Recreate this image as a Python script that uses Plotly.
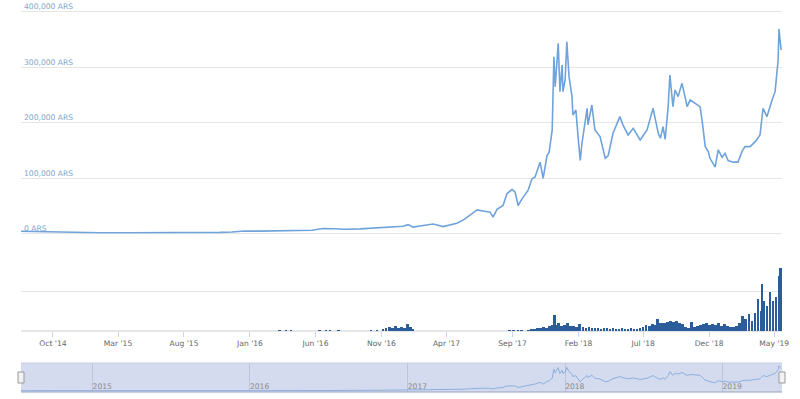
import plotly.graph_objects as go

# ---------------- data ----------------
price_dates = [
    "2014-07-19", "2014-08-20", "2014-09-24", "2014-11-21", "2015-01-18", "2015-03-29",
    "2015-06-06", "2015-08-15", "2015-10-23", "2015-11-20", "2015-12-04", "2015-12-20",
    "2016-01-24", "2016-04-03", "2016-05-24", "2016-06-07", "2016-06-18", "2016-07-16",
    "2016-08-08", "2016-09-12", "2016-10-29", "2016-12-02", "2016-12-21", "2017-01-02",
    "2017-01-13", "2017-01-29", "2017-03-01", "2017-03-24", "2017-04-09", "2017-04-25",
    "2017-05-12", "2017-05-25", "2017-06-11", "2017-06-25", "2017-07-11", "2017-07-18",
    "2017-07-27", "2017-08-10", "2017-08-19", "2017-08-31", "2017-09-07", "2017-09-14",
    "2017-09-23", "2017-10-07", "2017-10-16", "2017-10-23", "2017-11-04", "2017-11-11",
    "2017-11-20", "2017-11-25", "2017-12-02", "2017-12-06", "2017-12-09", "2017-12-16",
    "2017-12-20", "2017-12-25", "2017-12-27", "2018-01-01", "2018-01-05", "2018-01-10",
    "2018-01-17", "2018-01-19", "2018-01-26", "2018-01-31", "2018-02-05", "2018-02-09",
    "2018-02-21", "2018-02-23", "2018-03-04", "2018-03-11", "2018-03-23", "2018-04-04",
    "2018-04-11", "2018-04-22", "2018-05-08", "2018-05-15", "2018-05-27", "2018-06-08",
    "2018-06-24", "2018-07-10", "2018-07-17", "2018-07-24", "2018-08-05", "2018-08-10",
    "2018-08-16", "2018-08-21", "2018-08-28", "2018-09-01", "2018-09-08", "2018-09-13",
    "2018-09-20", "2018-09-29", "2018-10-06", "2018-10-11", "2018-10-18", "2018-10-29",
    "2018-11-10", "2018-11-15", "2018-11-22", "2018-11-29", "2018-12-03", "2018-12-15",
    "2018-12-22", "2018-12-31", "2019-01-07", "2019-01-14", "2019-01-26", "2019-02-06",
    "2019-02-15", "2019-02-22", "2019-03-06", "2019-03-18", "2019-03-29", "2019-04-05",
    "2019-04-14", "2019-04-26", "2019-05-03", "2019-05-10", "2019-05-12", "2019-05-15",
    "2019-05-17",
]
price_ars = [
    4500, 4000, 3300, 2800, 1800, 2000,
    1900, 2200, 2600, 3200, 4300, 5000,
    4800, 5600, 6500, 8200, 9500, 9000,
    8200, 8800, 10500, 12000, 13500, 16500,
    12000, 14000, 17500, 13000, 16500, 19000,
    26000, 33000, 43000, 41000, 39000, 30000,
    44000, 51000, 72000, 80000, 75000, 51000,
    63000, 78000, 99000, 102000, 129000, 100000,
    141000, 147000, 187000, 319000, 265000, 343000,
    256000, 304000, 256000, 277000, 346000, 283000,
    247000, 214000, 223000, 175000, 132000, 163000,
    226000, 196000, 232000, 187000, 175000, 136000,
    141000, 181000, 211000, 196000, 178000, 190000,
    169000, 187000, 205000, 226000, 181000, 172000,
    193000, 170000, 229000, 286000, 229000, 259000,
    247000, 271000, 247000, 229000, 241000, 235000,
    229000, 202000, 157000, 148000, 136000, 120000,
    151000, 138000, 145000, 132000, 129000, 129000,
    148000, 157000, 157000, 166000, 178000, 226000,
    211000, 241000, 256000, 313000, 369000, 345000,
    331000,
]

volume_dates = [
    "2016-03-10", "2016-03-25", "2016-04-05", "2016-06-10", "2016-06-25", "2016-07-05",
    "2016-07-25", "2016-10-08", "2016-10-22", "2016-11-05", "2016-11-12", "2016-11-19",
    "2016-11-26", "2016-12-03", "2016-12-10", "2016-12-17", "2016-12-24", "2016-12-31",
    "2017-01-07", "2017-01-12", "2017-08-25", "2017-09-03", "2017-09-14", "2017-09-22",
    "2017-10-08", "2017-10-15", "2017-10-22", "2017-10-29", "2017-11-05", "2017-11-12",
    "2017-11-19", "2017-11-26", "2017-12-03", "2017-12-10", "2017-12-17", "2017-12-24",
    "2017-12-31", "2018-01-07", "2018-01-14", "2018-01-21", "2018-01-28", "2018-02-04",
    "2018-02-11", "2018-02-18", "2018-02-25", "2018-03-04", "2018-03-11", "2018-03-18",
    "2018-03-25", "2018-04-01", "2018-04-08", "2018-04-15", "2018-04-22", "2018-04-29",
    "2018-05-06", "2018-05-13", "2018-05-20", "2018-05-27", "2018-06-03", "2018-06-10",
    "2018-06-17", "2018-06-24", "2018-07-01", "2018-07-08", "2018-07-15", "2018-07-22",
    "2018-07-29", "2018-08-05", "2018-08-12", "2018-08-19", "2018-08-26", "2018-09-02",
    "2018-09-09", "2018-09-16", "2018-09-23", "2018-09-30", "2018-10-07", "2018-10-14",
    "2018-10-21", "2018-10-28", "2018-11-04", "2018-11-11", "2018-11-18", "2018-11-25",
    "2018-12-02", "2018-12-09", "2018-12-16", "2018-12-23", "2018-12-30", "2019-01-06",
    "2019-01-13", "2019-01-20", "2019-01-27", "2019-02-03", "2019-02-10", "2019-02-17",
    "2019-02-24", "2019-03-03", "2019-03-10", "2019-03-17", "2019-03-24", "2019-03-31",
    "2019-04-07", "2019-04-14", "2019-04-21", "2019-04-28", "2019-05-05", "2019-05-12",
    "2019-05-16",
    # single-day spikes
    "2017-12-07", "2018-08-03", "2019-04-03",
]
volume_units = [
    1, 1, 1, 1, 1.5, 1,
    1, 1, 1.5, 2.5, 3, 4,
    3, 5, 3, 4, 3.5, 7,
    4, 2, 1, 1.5, 1, 1,
    1.5, 2, 2, 3, 3, 4,
    3, 5, 6, 6, 8, 5,
    6, 8, 5, 5, 4, 7,
    4, 3, 4, 3, 3, 3,
    2.5, 3, 3, 2, 3, 2,
    2, 3, 2, 2, 3, 2,
    2, 3, 4, 6, 5, 7,
    6, 8, 8, 8, 9, 10,
    9, 10, 8, 7, 4, 3,
    9, 4, 5, 6, 7, 8,
    6, 7, 6, 8, 5, 7,
    5, 4, 4, 5, 8, 15,
    12, 17, 10, 18, 32, 20,
    30, 25, 39, 30, 34, 55,
    63,
    16, 12, 47,
]

price_ticks = [0, 100000, 200000, 300000, 400000]
price_tick_labels = [f"{v:,} ARS" for v in price_ticks]
x_range = ["2014-07-19", "2019-05-19"]

# ---------------- styling ----------------
FONT = "DejaVu Sans"
FS = 7.6
W, H = 800, 399
xdom = [21 / W, 782 / W]

# price pane: 0 at y=233.8px, 400k at y=11.7px; pane extends to top of canvas
px_per_val = (233.8 - 11.7) / 400000
price_top = 233.8 / px_per_val

fig = go.Figure()

fig.add_trace(go.Scatter(
    x=price_dates, y=price_ars, mode="lines",
    line=dict(color="#6fa3dc", width=1.6),
    xaxis="x", yaxis="y", hoverinfo="skip"))

fig.add_trace(go.Bar(
    x=volume_dates, y=volume_units,
    marker=dict(color="#2b5d9b", line_width=0),
    width=6 * 86400000,
    xaxis="x2", yaxis="y2", hoverinfo="skip"))

fig.add_trace(go.Scatter(
    x=price_dates, y=price_ars, mode="lines",
    line=dict(color="#8db0df", width=1),
    xaxis="x3", yaxis="y3", hoverinfo="skip"))

grid = "#e6e6e6"

fig.update_layout(
    width=W, height=H,
    margin=dict(l=0, r=0, t=0, b=0),
    paper_bgcolor="white", plot_bgcolor="white",
    showlegend=False,
    font=dict(family=FONT, size=FS, color="#666666"),
    bargap=0,
    xaxis=dict(domain=xdom, range=x_range, type="date", anchor="y",
               showticklabels=False, showgrid=False, zeroline=False,
               ticks="", automargin=False),
    yaxis=dict(domain=[(H - 233.8) / H, 1.0], range=[0, price_top],
               anchor="x", tickvals=price_ticks, ticktext=price_tick_labels,
               ticklabelposition="inside top",
               tickfont=dict(size=FS, color="#7fa6c6", family=FONT),
               showgrid=True, gridcolor=grid, gridwidth=1,
               zeroline=True, zerolinecolor=grid, zerolinewidth=1,
               showline=False, automargin=False),
    xaxis2=dict(domain=xdom, range=x_range, type="date", anchor="y2",
                tick0="2014-10-01", dtick="M5", tickformat="%b '%y",
                ticks="outside", ticklen=5, tickcolor="#ccd6eb",
                tickfont=dict(size=FS, color="#666666", family=FONT),
                ticklabeloverflow="allow",
                showgrid=False, zeroline=False, showline=False,
                automargin=False),
    yaxis2=dict(domain=[(H - 331) / H, (H - 251) / H], range=[0, 80],
                anchor="x2", tickvals=[0, 40, 80], showticklabels=False,
                showgrid=True, gridcolor=grid, zeroline=True,
                zerolinecolor=grid, showline=False, automargin=False),
    xaxis3=dict(domain=xdom, range=x_range, type="date", anchor="y3",
                tick0="2015-01-01", dtick="M12", tickformat="%Y",
                ticklabelposition="inside right", ticks="",
                ticklabelstandoff=-5,
                tickfont=dict(size=FS, color="#8a8a8a", family=FONT),
                showgrid=True, gridcolor="#bcc3da", zeroline=False,
                showline=False, automargin=False),
    yaxis3=dict(domain=[(H - 392) / H, (H - 363) / H], range=[-15000, 410000],
                anchor="x3", showticklabels=False, showgrid=False,
                zeroline=False, showline=False, automargin=False),
)

shapes = [
    # navigator mask
    dict(type="rect", xref="x3 domain", yref="y3 domain", x0=0, x1=1, y0=0, y1=1,
         fillcolor="#d5dbee", line=dict(width=0), layer="below"),
    dict(type="line", xref="x3 domain", yref="y3 domain", x0=0, x1=1, y0=1, y1=1,
         line=dict(color="#c9cfe3", width=1)),
    dict(type="line", xref="x3 domain", yref="y3 domain", x0=0, x1=1, y0=0, y1=0,
         line=dict(color="#98a1be", width=1)),
    # handles
    dict(type="rect", xref="paper", yref="paper", x0=18 / W, x1=24 / W,
         y0=(H - 383) / H, y1=(H - 372) / H,
         fillcolor="#f2f2f2", line=dict(color="#999999", width=1)),
    dict(type="rect", xref="paper", yref="paper", x0=779 / W, x1=785 / W,
         y0=(H - 383) / H, y1=(H - 372) / H,
         fillcolor="#f2f2f2", line=dict(color="#999999", width=1)),
]
fig.update_layout(shapes=shapes)

fig.write_html(
    "out.html",
    config={"displayModeBar": False, "staticPlot": True},
    post_script="document.body.style.margin='0';document.body.style.overflow='hidden';",
)
